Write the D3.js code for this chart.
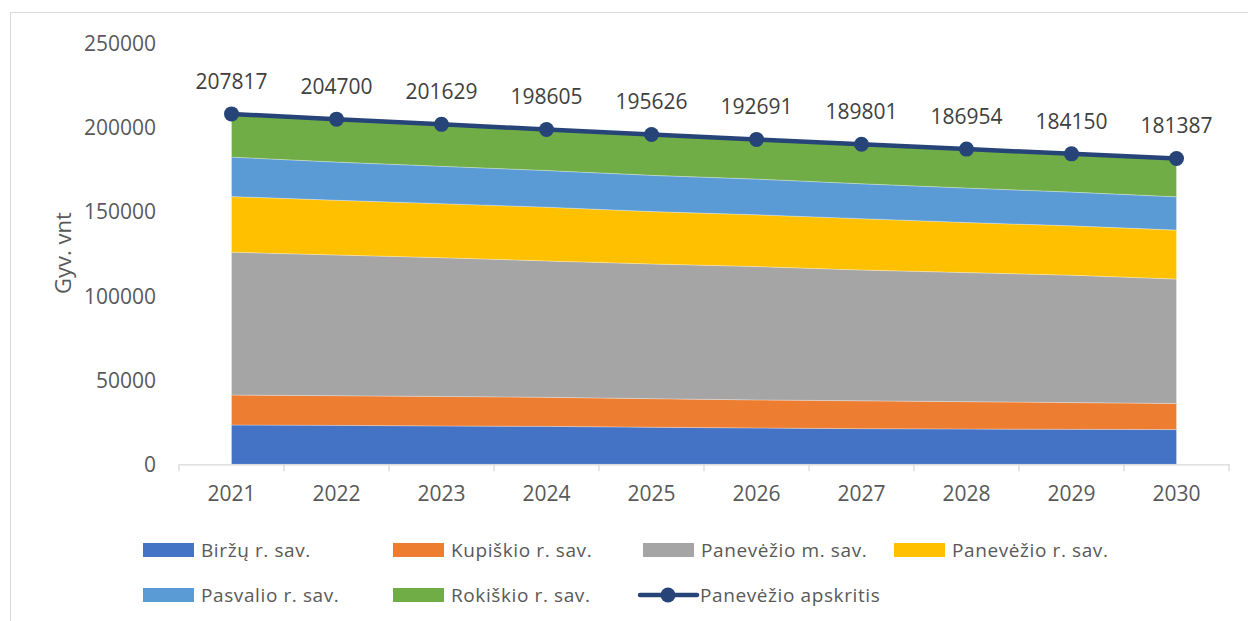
<!DOCTYPE html>
<html>
<head>
<meta charset="utf-8">
<script src="https://cdn.jsdelivr.net/npm/d3@7"></script>
<style>
  html, body { margin: 0; padding: 0; background: #fff; }
  svg { display: block; font-family: "Open Sans", "DejaVu Sans", sans-serif; }
</style>
</head>
<body>
<svg id="chart" width="1248" height="621"></svg>
<script>
const years = ["2021","2022","2023","2024","2025","2026","2027","2028","2029","2030"];
const birzai    = [23300, 23100, 22750, 22500, 22000, 21550, 21150, 20950, 20750, 20600];
const kupiskis  = [17800, 17600, 17500, 17250, 16950, 16650, 16500, 16200, 15850, 15500];
const panMiestas= [84700, 83450, 82300, 80900, 79900, 79100, 77600, 76550, 75600, 73750];
const panRajonas= [33000, 32450, 32050, 31850, 31050, 30700, 30450, 29700, 29250, 29050];
const pasvalys  = [23400, 22650, 22150, 21750, 21500, 21150, 20700, 20450, 20000, 19750];
const rokiskis  = [25600, 25450, 24900, 24350, 24200, 23550, 23400, 23100, 22750, 22700];
const apskritis = [207817, 204700, 201629, 198605, 195626, 192691, 189801, 186954, 184150, 181387];
const yTicks = [0, 50000, 100000, 150000, 200000, 250000];

const seriesNames = ["Biržų r. sav.","Kupiškio r. sav.","Panevėžio m. sav.","Panevėžio r. sav.","Pasvalio r. sav.","Rokiškio r. sav."];
const seriesValues = [birzai, kupiskis, panMiestas, panRajonas, pasvalys, rokiskis];
const colors = ["#4472C4","#ED7D31","#A5A5A5","#FFC000","#5B9BD5","#70AD47"];
const lineName = "Panevėžio apskritis";
const lineColor = "#264478";

const table = years.map((y, i) => {
  const row = { year: y };
  seriesNames.forEach((n, j) => row[n] = seriesValues[j][i]);
  return row;
});

const svg = d3.select("#chart");

// chart frame
svg.append("rect").attr("x", 10.5).attr("y", 12.5).attr("width", 1400).attr("height", 800)
  .attr("fill", "none").attr("stroke", "#d9d9d9").attr("stroke-width", 1);

const x = d3.scaleBand().domain(years).range([179, 1229]).padding(0);
const xc = d => x(d) + x.bandwidth() / 2;
const y = d3.scaleLinear().domain([0, 250000]).range([464.3, 42.8]);

const stack = d3.stack().keys(seriesNames);
const stacked = stack(table);

const area = d3.area()
  .x(d => xc(d.data.year))
  .y0(d => y(d[0]))
  .y1(d => y(d[1]));

svg.append("g").selectAll("path").data(stacked).join("path")
  .attr("d", area)
  .attr("fill", (d, i) => colors[i])
  .attr("stroke", "#ffffff").attr("stroke-opacity", 0.35).attr("stroke-width", 0.8);

// x axis
const xAxis = d3.axisBottom(x).tickSize(0).tickPadding(22);
const gx = svg.append("g").attr("transform", "translate(0,464.3)").call(xAxis);
gx.select(".domain").attr("stroke", "#d9d9d9").attr("stroke-width", 1.3);
gx.selectAll("text").attr("font-size", 21).attr("fill", "#595959")
  .attr("font-family", "Open Sans, sans-serif");
// category boundary ticks
const boundaries = years.map(d => x(d)).concat([x.range()[1]]);
gx.selectAll("line.bt").data(boundaries).join("line").attr("class", "bt")
  .attr("x1", d => d).attr("x2", d => d).attr("y1", 0).attr("y2", 7)
  .attr("stroke", "#d9d9d9").attr("stroke-width", 1.3);

// y axis
const yAxis = d3.axisLeft(y).tickValues(yTicks).tickSize(0).tickPadding(0).tickFormat(d3.format("d"));
const gy = svg.append("g").attr("transform", "translate(156,0)").call(yAxis);
gy.select(".domain").remove();
gy.selectAll("text").attr("font-size", 21).attr("fill", "#595959")
  .attr("font-family", "Open Sans, sans-serif").attr("dy", "0.35em");

// y title
svg.append("text").attr("transform", "translate(62,253) rotate(-90)")
  .attr("text-anchor", "middle").attr("dominant-baseline", "central")
  .attr("font-size", 22).attr("fill", "#595959").text("Gyv. vnt");

// total line
const line = d3.line().x((d, i) => xc(years[i])).y(d => y(d));
svg.append("path").datum(apskritis).attr("d", line)
  .attr("fill", "none").attr("stroke", lineColor).attr("stroke-width", 4.5)
  .attr("stroke-linejoin", "round");
svg.append("g").selectAll("circle").data(apskritis).join("circle")
  .attr("cx", (d, i) => xc(years[i])).attr("cy", d => y(d)).attr("r", 7.5)
  .attr("fill", lineColor);
svg.append("g").selectAll("text").data(apskritis).join("text")
  .attr("x", (d, i) => xc(years[i])).attr("y", d => y(d) - 25)
  .attr("text-anchor", "middle").attr("font-size", 21).attr("fill", "#404040")
  .text(d => d);

// legend
const legendItems = [
  { name: seriesNames[0], color: colors[0], col: 0, row: 0, type: "rect" },
  { name: seriesNames[1], color: colors[1], col: 1, row: 0, type: "rect" },
  { name: seriesNames[2], color: colors[2], col: 2, row: 0, type: "rect" },
  { name: seriesNames[3], color: colors[3], col: 3, row: 0, type: "rect" },
  { name: seriesNames[4], color: colors[4], col: 0, row: 1, type: "rect" },
  { name: seriesNames[5], color: colors[5], col: 1, row: 1, type: "rect" },
  { name: lineName, color: lineColor, col: 2, row: 1, type: "line" }
];
const colX = [143, 393, 643, 894];
const rowY = [550, 595];
const lg = svg.append("g");
legendItems.forEach(it => {
  const gx0 = colX[it.col], gy0 = rowY[it.row];
  const g = lg.append("g");
  if (it.type === "rect") {
    g.append("rect").attr("x", gx0).attr("y", gy0 - 7).attr("width", 51).attr("height", 14).attr("fill", it.color);
    g.append("text").attr("x", gx0 + 58).attr("y", gy0).attr("dominant-baseline", "central")
      .attr("font-size", 19).attr("letter-spacing", 0.6).attr("fill", "#595959").text(it.name);
  } else {
    g.append("line").attr("x1", gx0 - 3).attr("x2", gx0 + 54).attr("y1", gy0).attr("y2", gy0)
      .attr("stroke", it.color).attr("stroke-width", 4.5).attr("stroke-linecap", "round");
    g.append("circle").attr("cx", gx0 + 25).attr("cy", gy0).attr("r", 7.5).attr("fill", it.color);
    g.append("text").attr("x", gx0 + 57).attr("y", gy0).attr("dominant-baseline", "central")
      .attr("font-size", 19).attr("letter-spacing", 0.6).attr("fill", "#595959").text(it.name);
  }
});
</script>
</body>
</html>
